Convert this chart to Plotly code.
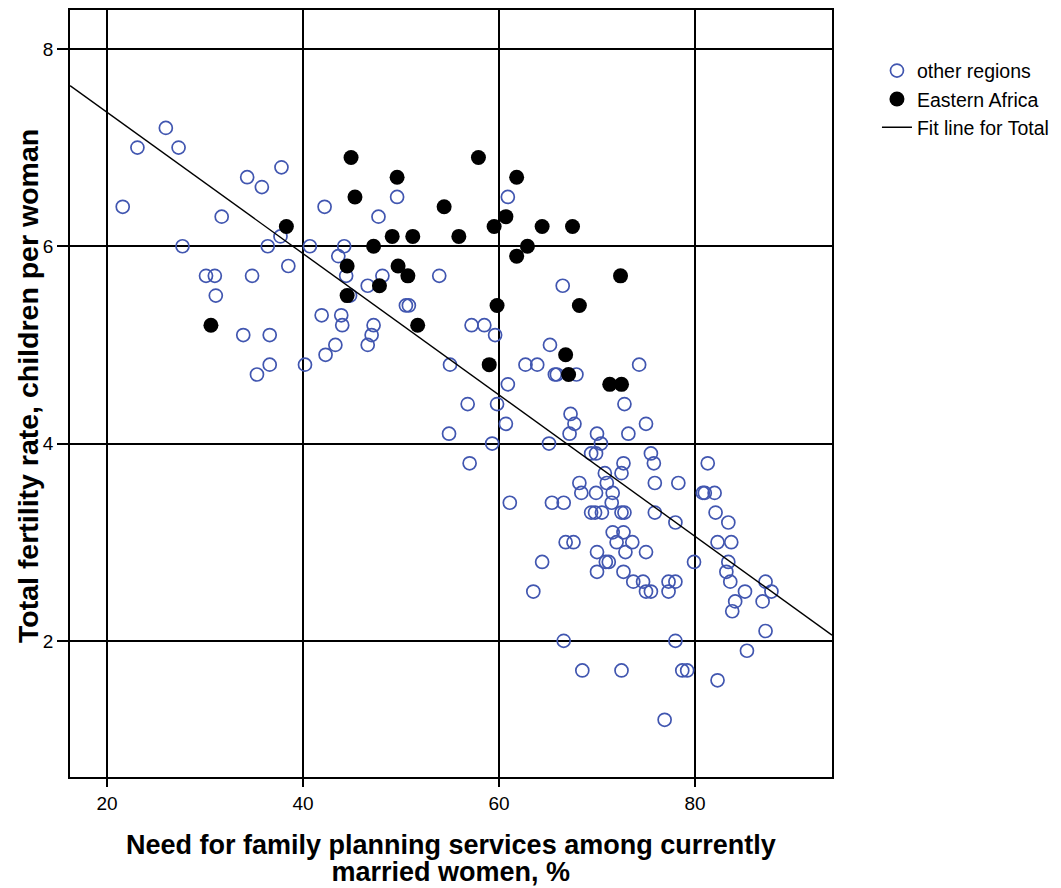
import numpy as np
import plotly.graph_objects as go

# Need for family planning (%) and total fertility rate, countries outside Eastern Africa
other_need = [
    26.0, 23.1, 27.3, 21.6, 34.3, 35.8, 37.8, 31.7, 37.7, 27.7,
    36.4, 40.7, 38.5, 30.1, 31.0, 34.8, 31.1, 33.9, 36.6, 36.6,
    35.3, 40.2, 41.9, 42.2, 42.3, 49.6, 60.9, 47.7, 44.2, 43.6,
    44.4, 48.1, 53.9, 46.6, 44.8, 50.5, 50.8, 43.9, 44.0, 47.2,
    47.0, 46.6, 43.3, 57.2, 58.5, 59.6, 55.0, 62.7, 63.9, 65.2,
    60.9, 65.7, 66.5, 74.3, 65.9, 67.9, 56.8, 59.8, 60.7, 54.9,
    59.3, 65.1, 67.3, 67.7, 67.2, 57.0, 70.0, 69.4, 69.9, 68.2,
    68.4, 61.1, 65.4, 66.6, 69.4, 69.8, 66.8, 67.6, 64.4, 70.0,
    70.0, 72.8, 75.0, 73.2, 70.4, 75.5, 75.8, 72.7, 81.3, 70.8,
    72.5, 71.0, 75.9, 78.3, 69.9, 71.6, 80.8, 81.0, 82.0, 71.5,
    70.5, 72.5, 72.8, 75.9, 82.1, 78.0, 83.4, 71.6, 72.7, 72.0,
    73.6, 82.3, 83.7, 72.9, 75.0, 79.9, 70.9, 71.2, 83.4, 72.7,
    83.2, 63.5, 73.7, 74.7, 75.0, 75.5, 77.3, 78.0, 77.3, 83.6,
    85.1, 87.2, 87.8, 84.1, 86.9, 83.8, 87.2, 66.6, 78.0, 85.3,
    68.5, 72.5, 78.7, 79.2, 82.3, 76.9,
]
other_tfr = [
    7.2, 7.0, 7.0, 6.4, 6.7, 6.6, 6.8, 6.3, 6.1, 6.0,
    6.0, 6.0, 5.8, 5.7, 5.7, 5.7, 5.5, 5.1, 5.1, 4.8,
    4.7, 4.8, 5.3, 6.4, 4.9, 6.5, 6.5, 6.3, 6.0, 5.9,
    5.7, 5.7, 5.7, 5.6, 5.5, 5.4, 5.4, 5.3, 5.2, 5.2,
    5.1, 5.0, 5.0, 5.2, 5.2, 5.1, 4.8, 4.8, 4.8, 5.0,
    4.6, 4.7, 5.6, 4.8, 4.7, 4.7, 4.4, 4.4, 4.2, 4.1,
    4.0, 4.0, 4.3, 4.2, 4.1, 3.8, 4.1, 3.9, 3.9, 3.6,
    3.5, 3.4, 3.4, 3.4, 3.3, 3.3, 3.0, 3.0, 2.8, 2.9,
    2.7, 4.4, 4.2, 4.1, 4.0, 3.9, 3.8, 3.8, 3.8, 3.7,
    3.7, 3.6, 3.6, 3.6, 3.5, 3.5, 3.5, 3.5, 3.5, 3.4,
    3.3, 3.3, 3.3, 3.3, 3.3, 3.2, 3.2, 3.1, 3.1, 3.0,
    3.0, 3.0, 3.0, 2.9, 2.9, 2.8, 2.8, 2.8, 2.8, 2.7,
    2.7, 2.5, 2.6, 2.6, 2.5, 2.5, 2.6, 2.6, 2.5, 2.6,
    2.5, 2.6, 2.5, 2.4, 2.4, 2.3, 2.1, 2.0, 2.0, 1.9,
    1.7, 1.7, 1.7, 1.7, 1.6, 1.2,
]

# Eastern Africa
ea_need = [
    38.3, 30.6, 44.9, 57.9, 49.6, 61.8, 45.3, 54.4, 60.7, 59.5,
    64.4, 49.1, 51.2, 55.9, 47.2, 62.9, 61.8, 44.5, 49.7, 50.7,
    47.8, 44.5, 59.8, 51.7, 59.0, 67.5, 72.4, 68.2, 66.8, 67.1,
    71.3, 72.5,
]
ea_tfr = [
    6.2, 5.2, 6.9, 6.9, 6.7, 6.7, 6.5, 6.4, 6.3, 6.2,
    6.2, 6.1, 6.1, 6.1, 6.0, 6.0, 5.9, 5.8, 5.8, 5.7,
    5.6, 5.5, 5.4, 5.2, 4.8, 6.2, 5.7, 5.4, 4.9, 4.7,
    4.6, 4.6,
]

x_range = [16.22, 93.98]
y_range = [0.62, 8.395]
x_ticks = [20, 40, 60, 80]
y_ticks = [2, 4, 6, 8]

x_title_lines = ["Need for family planning services among currently", "married women, %"]
y_title = "Total fertility rate, children per woman"

# Least-squares line for all countries together
all_x = np.array(other_need + ea_need)
all_y = np.array(other_tfr + ea_tfr)
slope, intercept = np.polyfit(all_x, all_y, 1)
fit_x = np.array(x_range)
fit_y = intercept + slope * fit_x

FONT = "Liberation Sans, Arial, sans-serif"
BLUE = "#4156B0"

fig = go.Figure()
fig.add_trace(go.Scatter(
    x=other_need, y=other_tfr, mode="markers", name="other regions",
    marker=dict(symbol="circle-open", size=13, color=BLUE, line=dict(width=1.7, color=BLUE)),
))
fig.add_trace(go.Scatter(
    x=ea_need, y=ea_tfr, mode="markers", name="Eastern Africa",
    marker=dict(symbol="circle", size=15, color="black", line=dict(width=0)),
))
fig.add_trace(go.Scatter(
    x=fit_x, y=fit_y, mode="lines", name="Fit line for Total",
    line=dict(color="black", width=1.4),
))

axis_common = dict(
    showline=True, linecolor="black", linewidth=1.5, mirror=True,
    showgrid=True, gridcolor="black", gridwidth=1.5,
    zeroline=False, ticks="outside", tickwidth=1.5, tickcolor="black",
    tickfont=dict(family=FONT, size=19, color="black"),
)

fig.update_xaxes(range=x_range, tickvals=x_ticks, ticklen=8, **axis_common)
fig.update_yaxes(range=y_range, tickvals=y_ticks, ticklen=11, **axis_common)

# Two-line x title: small base size keeps the line spacing tight, spans carry the glyph size
x_title_html = "<br>".join(
    f"<span style='font-size:27px'><b>{line}</b></span>" for line in x_title_lines
)

fig.update_layout(
    width=1061, height=888, autosize=False,
    margin=dict(l=70, r=229, t=10, b=111, autoexpand=False),
    paper_bgcolor="white", plot_bgcolor="white",
    font=dict(family=FONT, color="black"),
    showlegend=True,
    legend=dict(
        x=1.059, y=0.946, xanchor="left", yanchor="top",
        font=dict(family=FONT, size=19.5, color="black"),
        bgcolor="rgba(0,0,0,0)", borderwidth=0, tracegroupgap=0,
    ),
    annotations=[
        dict(text=x_title_html,
             xref="paper", yref="paper", x=0.5, y=-0.1063, xanchor="center", yanchor="middle",
             showarrow=False, font=dict(family=FONT, size=21, color="black")),
        dict(text=f"<b>{y_title}</b>",
             xref="paper", yref="paper", x=-0.0551, y=0.5098, xanchor="center", yanchor="middle",
             textangle=-90, showarrow=False, font=dict(family=FONT, size=28.5, color="black")),
    ],
)

fig.write_html("out.html")
